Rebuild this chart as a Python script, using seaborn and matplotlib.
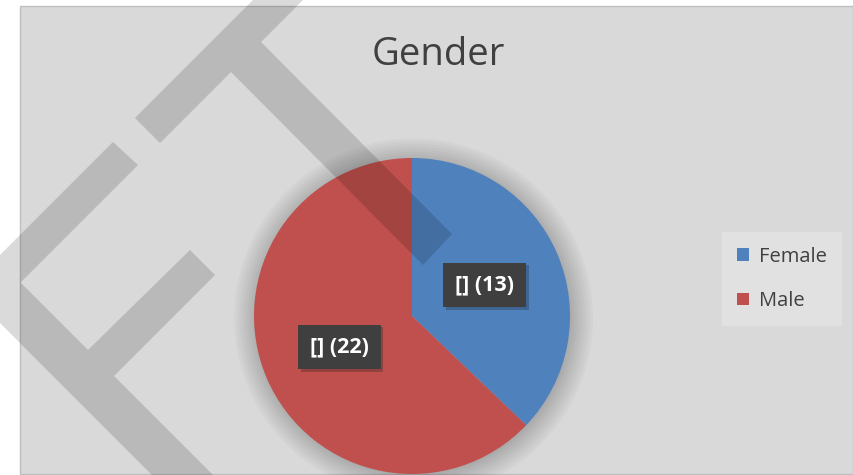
import matplotlib
matplotlib.use("Agg")
import matplotlib.pyplot as plt
import matplotlib.patheffects as pe
from matplotlib.patches import Rectangle, Polygon, Circle
import seaborn as sns

# data
categories = ["Female", "Male"]
counts = [13, 22]
colors = ["#4f81bd", "#c0504d"]

sns.set_style("white")
plt.rcParams["font.family"] = ["Open Sans", "DejaVu Sans"]

W, H = 854, 475
fig = plt.figure(figsize=(W / 100, H / 100), dpi=100)
fig.patch.set_facecolor("white")


def px(x, y):
    # pixel (top-left origin) -> figure fraction
    return (x / W, 1 - y / H)


# chart area
fig.add_artist(Rectangle(px(20, 474), (853 - 20) / W, (474 - 6) / H,
                         transform=fig.transFigure, facecolor="#d9d9d9",
                         edgecolor="#bfbfbf", lw=1, zorder=-1))

# pie axes
R, cx, cy, pad = 158, 412, 316, 1.3
ax = fig.add_axes([(cx - R * pad) / W, (H - cy - R * pad) / H,
                   2 * R * pad / W, 2 * R * pad / H])
ax.set_facecolor("none")

# soft shadow around pie
for k in range(9):
    ax.add_patch(Circle((0.01, -0.012), 1.0 + 0.017 * k, facecolor="black",
                        alpha=0.022, lw=0, zorder=0))

wedges, _, autotexts = ax.pie(
    counts, colors=colors, startangle=90, counterclock=False,
    autopct=lambda p: f"[] ({round(p * sum(counts) / 100)})",
    pctdistance=0.5, wedgeprops=dict(linewidth=0),
    textprops=dict(color="white", fontsize=15.5, fontweight="bold"))
for w in wedges:
    w.set_zorder(2)
ax.set_xlim(-pad, pad)
ax.set_ylim(-pad, pad)
ax.axis("off")

for t in autotexts:
    t.set_zorder(3)
    t.set_bbox(dict(boxstyle="square,pad=0.55", facecolor="#3f3f3f", edgecolor="none"))
    t.get_bbox_patch().set_path_effects([pe.SimplePatchShadow(offset=(2, -2), alpha=0.25),
                                         pe.Normal()])

# title
fig.text(*px(438, 55), "Gender", ha="center", va="center", fontsize=27.5, color="#404040")

# legend
fig.legend(wedges, categories, loc="center", bbox_to_anchor=px(782, 279),
           frameon=True, fancybox=False, facecolor="#e1e1e1", edgecolor="none",
           framealpha=1, fontsize=14.5, labelcolor="#404040", labelspacing=1.2,
           handlelength=0.6, handleheight=0.6, handletextpad=0.5, borderpad=0.75)

# watermark overlay
mark = dict(transform=fig.transFigure, facecolor="black", alpha=0.145, lw=0, zorder=10)
shape1 = [(113, 142), (138, 165), (20.5, 282.5), (88, 350), (190, 250), (215, 275),
          (114, 376), (260, 522), (199, 522), (-34, 289)]
shape2 = [(303, -50), (353, -50), (261, 42), (452, 234), (423, 265), (231, 72),
          (160, 143), (135, 118)]
for shp in (shape1, shape2):
    fig.add_artist(Polygon([px(x, y) for x, y in shp], closed=True, **mark))

fig.savefig("out.png", dpi=100)
